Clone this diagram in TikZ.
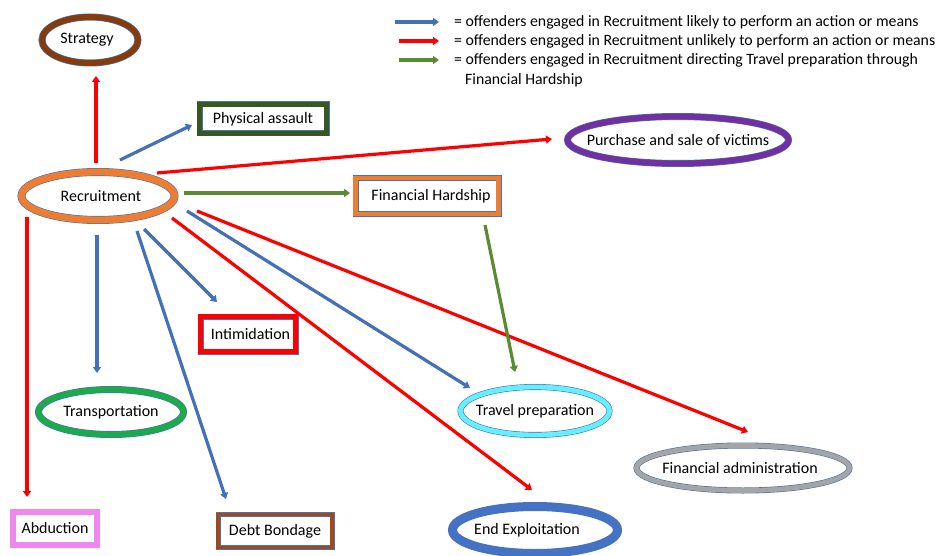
\documentclass[tikz,border=0pt]{standalone}
\usepackage{fontspec}
\setmainfont{Carlito}
\usetikzlibrary{shapes.geometric,arrows.meta,calc}

\definecolor{outl}{HTML}{4A72B8}
\definecolor{cbrown}{HTML}{843C0C}
\definecolor{corange}{HTML}{ED7D31}
\definecolor{cdkgreen}{HTML}{385723}
\definecolor{cpurple}{HTML}{7030A0}
\definecolor{cgreen}{HTML}{1DAA4A}
\definecolor{ccyan}{HTML}{66F0FF}
\definecolor{cgray}{HTML}{A5A5A5}
\definecolor{cblue}{HTML}{4472C4}
\definecolor{cred}{HTML}{FF0000}
\definecolor{cpink}{HTML}{EE88EE}
\definecolor{cdbrown}{HTML}{9C4A1E}
\definecolor{likely}{HTML}{4470B8}
\definecolor{unlikely}{HTML}{FF0000}
\definecolor{via}{HTML}{5A8A32}

\begin{document}
\begin{tikzpicture}[x=1pt,y=-1pt,
  font=\fontsize{16}{19}\selectfont,
  ring/.style 2 args={ellipse, draw=outl, line width=0.6pt, double=#1,
    double distance=#2, fill=white, inner sep=0pt},
  box/.style 2 args={rectangle, draw=outl, line width=0.6pt, double=#1,
    double distance=#2, fill=white, inner sep=0pt},
  link/.style={line width=3.2pt, -{Triangle[length=6pt,width=8pt]}},
  key/.style={anchor=base west, inner sep=0pt,
    font=\fontsize{15.8}{19}\selectfont}]

\useasboundingbox[fill=white] (0,0) rectangle (944,556);

% ---- ellipses ----
\node[ring={cbrown}{5.8pt}, minimum width=96pt, minimum height=46pt,
  label={[xshift=-3pt]center:Strategy}] (st) at (90,40) {};
\node[ring={corange}{6.8pt}, minimum width=153pt, minimum height=48pt,
  label={[xshift=3pt]center:Recruitment}] (rec) at (98,196) {};
\node[ring={cpurple}{5.8pt}, minimum width=221pt, minimum height=47pt,
  label={center:Purchase and sale of victims}] (pu) at (678,140) {};
\node[ring={cgreen}{5.8pt}, minimum width=145pt, minimum height=45pt,
  label={center:Transportation}] (tr) at (111,412) {};
\node[ring={ccyan}{4.8pt}, minimum width=149pt, minimum height=48pt,
  label={center:Travel preparation}] (tp) at (535,411) {};
\node[ring={cgray}{4.8pt}, minimum width=213pt, minimum height=45pt,
  label={[xshift=-3pt]center:Financial administration}] (fa) at (743,468) {};
\node[ring={cblue}{7.8pt}, minimum width=165pt, minimum height=47pt,
  label={[xshift=-8pt]center:End Exploitation}] (ee) at (535,530) {};

% ---- boxes ----
\node[box={cdkgreen}{4.8pt}, minimum width=127pt, minimum height=29pt]
  (pa) at (263,119) {Physical assault};
\node[box={corange}{4.8pt}, minimum width=143pt, minimum height=36pt]
  (fh) at (427,196) {\hspace*{8pt}Financial Hardship};
\node[box={cred}{4.8pt}, minimum width=95pt, minimum height=35pt]
  (in) at (248,334) {\hspace*{5pt}Intimidation};
\node[box={cpink}{4.8pt}, draw=cpink, minimum width=84pt, minimum height=33pt]
  (ab) at (55,528) {Abduction};
\node[box={cdbrown}{3.8pt}, minimum width=114pt, minimum height=33pt]
  (db) at (275,531) {Debt Bondage};

% ---- connectors from Recruitment ----
\draw[link, unlikely] ($(rec)+(-2,-33)$) -- ($(st)+(6,36)$);
\draw[link, likely]   ($(rec)+(22,-36)$) -- ($(pa)+(-71,6)$);
\draw[link, unlikely] ($(rec)+(59,-23)$) -- ($(pu)+(-126,-1)$);
\draw[link, via]      ($(rec)+(86,-3)$)  -- ($(fh)+(-77,-3)$);
\draw[link, unlikely] ($(rec)+(-71,21)$) -- ($(ab)+(-28,-31)$);
\draw[link, likely]   ($(rec)+(-1,39)$)  -- ($(tr)+(-14,-39)$);
\draw[link, likely]   ($(rec)+(39,35)$)  -- ($(db)+(-49,-32)$);
\draw[link, likely]   ($(rec)+(46,33)$)  -- ($(in)+(-31,-32)$);
\draw[link, unlikely] ($(rec)+(74,22)$)  -- ($(ee)+(-3,-40)$);
\draw[link, likely]   ($(rec)+(89,15)$)  -- ($(tp)+(-65,-23)$);
\draw[link, unlikely] ($(rec)+(99,15)$)  -- ($(fa)+(5,-36)$);

% ---- Financial Hardship leads to Travel preparation ----
\draw[link, via] ($(fh)+(58,29)$) -- ($(tp)+(-20,-39)$);

% ---- key ----
\node[key] (k1) at (454,27) {= offenders engaged in Recruitment likely to perform an action or means};
\node[key] (k2) at (454,46) {= offenders engaged in Recruitment unlikely to perform an action or means};
\node[key] (k3) at (454,65) {= offenders engaged in Recruitment directing Travel preparation through};
\node[key] (k4) at (465,85) {Financial Hardship};
\draw[link, likely]   ($(k1.base west)+(-59,-5)$) -- ($(k1.base west)+(-15,-5)$);
\draw[link, unlikely] ($(k2.base west)+(-55,-5)$) -- ($(k2.base west)+(-15,-5)$);
\draw[link, via]      ($(k3.base west)+(-55,-5)$) -- ($(k3.base west)+(-15,-5)$);

\end{tikzpicture}
\end{document}
